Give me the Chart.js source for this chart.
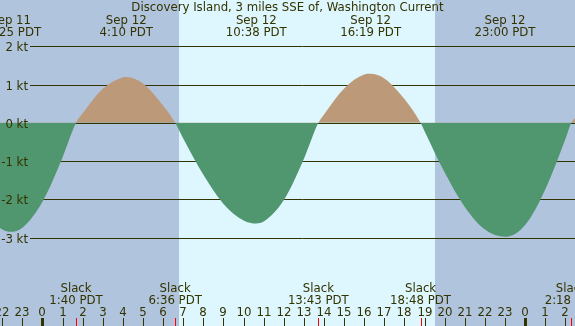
<!DOCTYPE html>
<html>
<head>
<meta charset="utf-8">
<script src="https://cdn.jsdelivr.net/npm/chart.js@4/dist/chart.umd.min.js"></script>
<style>
html,body{margin:0;padding:0;background:#B0C4DE;}
#wrap{width:575px;height:326px;position:relative;}
</style>
</head>
<body>
<div id="wrap"><canvas id="c" width="575" height="326"></canvas></div>
<script>
// Hours relative to Sep 12 00:00 PDT
const chartTitle = 'Discovery Island, 3 miles SSE of, Washington Current';
const times  = [-2.5,-2,-1.583,-1,0,1,1.667,2,3,4,4.167,5,6,6.6,7,8,9,10,10.633,11,12,13,13.717,14,15,16,16.317,17,18,18.8,19,20,21,22,23,24,25,26,26.3,26.8];
const speeds = [-2.57,-2.79,-2.85,-2.74,-2.06,-0.90,0,0.25,0.89,1.19,1.2,1.03,0.45,0,-0.41,-1.36,-2.12,-2.55,-2.63,-2.58,-2.02,-0.94,0,0.22,0.90,1.26,1.28,1.16,0.62,0,-0.22,-1.30,-2.20,-2.79,-2.98,-2.67,-1.74,-0.43,0,0.25];

const maxTimes  = [-1.583, 4.167, 10.633, 16.317, 23.0];
const maxDates  = ['Sep 11','Sep 12','Sep 12','Sep 12','Sep 12'];
const maxClocks = ['22:25 PDT','4:10 PDT','10:38 PDT','16:19 PDT','23:00 PDT'];

const slackTimes  = [1.667, 6.6, 13.717, 18.8, 26.3];
const slackClocks = ['1:40 PDT','6:36 PDT','13:43 PDT','18:48 PDT','2:18 PDT'];

const yTicks = [2,1,0,-1,-2,-3];
const yTickLabels = ['2 kt','1 kt','0 kt','-1 kt','-2 kt','-3 kt'];

const hourTicks = [-2,-1,0,1,2,3,4,5,6,7,8,9,10,11,12,13,14,15,16,17,18,19,20,21,22,23,24,25,26];
const hourLabels = ['22','23','0','1','2','3','4','5','6','7','8','9','10','11','12','13','14','15','16','17','18','19','20','21','22','23','0','1','2'];

const daylight = [6.79, 19.52];

const NIGHT = '#B0C4DE', DAY = '#DEF7FF', EBB = '#50966F', FLOOD = '#BC9A79', INK = '#333300';
const FONT = '11.75px "DejaVu Sans"';

const points = times.map((t,i)=>({x:t, y:speeds[i]}));

const deco = {
  id:'deco',
  beforeDraw(chart){
    const {ctx, width, height, scales:{x}} = chart;
    ctx.save();
    ctx.fillStyle = NIGHT; ctx.fillRect(0,0,width,height);
    const a = x.getPixelForValue(daylight[0]), b = x.getPixelForValue(daylight[1]);
    ctx.fillStyle = DAY; ctx.fillRect(Math.round(a),0,Math.round(b)-Math.round(a),height);
    ctx.restore();
  },
  beforeDatasetsDraw(chart){
    const {ctx, width, scales:{y}} = chart;
    ctx.save();
    ctx.strokeStyle = INK; ctx.lineWidth = 1;
    yTicks.forEach(v=>{
      const py = Math.round(y.getPixelForValue(v)) + 0.5;
      ctx.beginPath(); ctx.moveTo(30,py); ctx.lineTo(width,py); ctx.stroke();
    });
    ctx.restore();
  },
  afterDatasetsDraw(chart){
    const {ctx, width, height, scales:{x,y}} = chart;
    ctx.save();
    ctx.fillStyle = INK; ctx.font = FONT; ctx.textBaseline = 'alphabetic';
    ctx.textAlign = 'right';
    yTicks.forEach((v,i)=>{
      ctx.fillText(yTickLabels[i], 28, Math.round(y.getPixelForValue(v)) + 4.5);
    });
    ctx.textAlign = 'center';
    ctx.fillText(chartTitle, width/2, 11);
    maxTimes.forEach((t,i)=>{
      const px = x.getPixelForValue(t);
      ctx.fillText(maxDates[i], px, 23.5);
      ctx.fillText(maxClocks[i], px, 36);
    });
    slackTimes.forEach((t,i)=>{
      const px = x.getPixelForValue(t);
      ctx.fillText('Slack', px, 291.5);
      ctx.fillText(slackClocks[i], px, 304);
    });
    hourTicks.forEach((t,i)=>{
      const px = Math.round(x.getPixelForValue(t));
      ctx.fillText(hourLabels[i], px, 316);
      if (hourLabels[i] === '0') ctx.fillRect(px-1, 318, 3, 8);
      else ctx.fillRect(px, 318, 1, 8);
    });
    ctx.fillStyle = '#FF0000';
    slackTimes.forEach(t=>{
      const px = Math.round(x.getPixelForValue(t));
      ctx.fillRect(px, 318, 1, 8);
    });
    ctx.restore();
  }
};

new Chart(document.getElementById('c'), {
  type:'line',
  data:{ datasets:[{
    data: points,
    borderWidth: 0,
    borderColor: 'rgba(0,0,0,0)',
    pointRadius: 0,
    cubicInterpolationMode: 'monotone',
    fill: { target: 'origin', above: FLOOD, below: EBB }
  }]},
  options:{
    responsive:false,
    animation:false,
    layout:{padding:0},
    plugins:{legend:{display:false}, tooltip:{enabled:false}, title:{display:false}},
    scales:{
      x:{type:'linear', min:-2.113, max:26.48, display:false},
      y:{type:'linear', min:-5.31, max:3.21, display:false}
    }
  },
  plugins:[deco]
});
</script>
</body>
</html>
